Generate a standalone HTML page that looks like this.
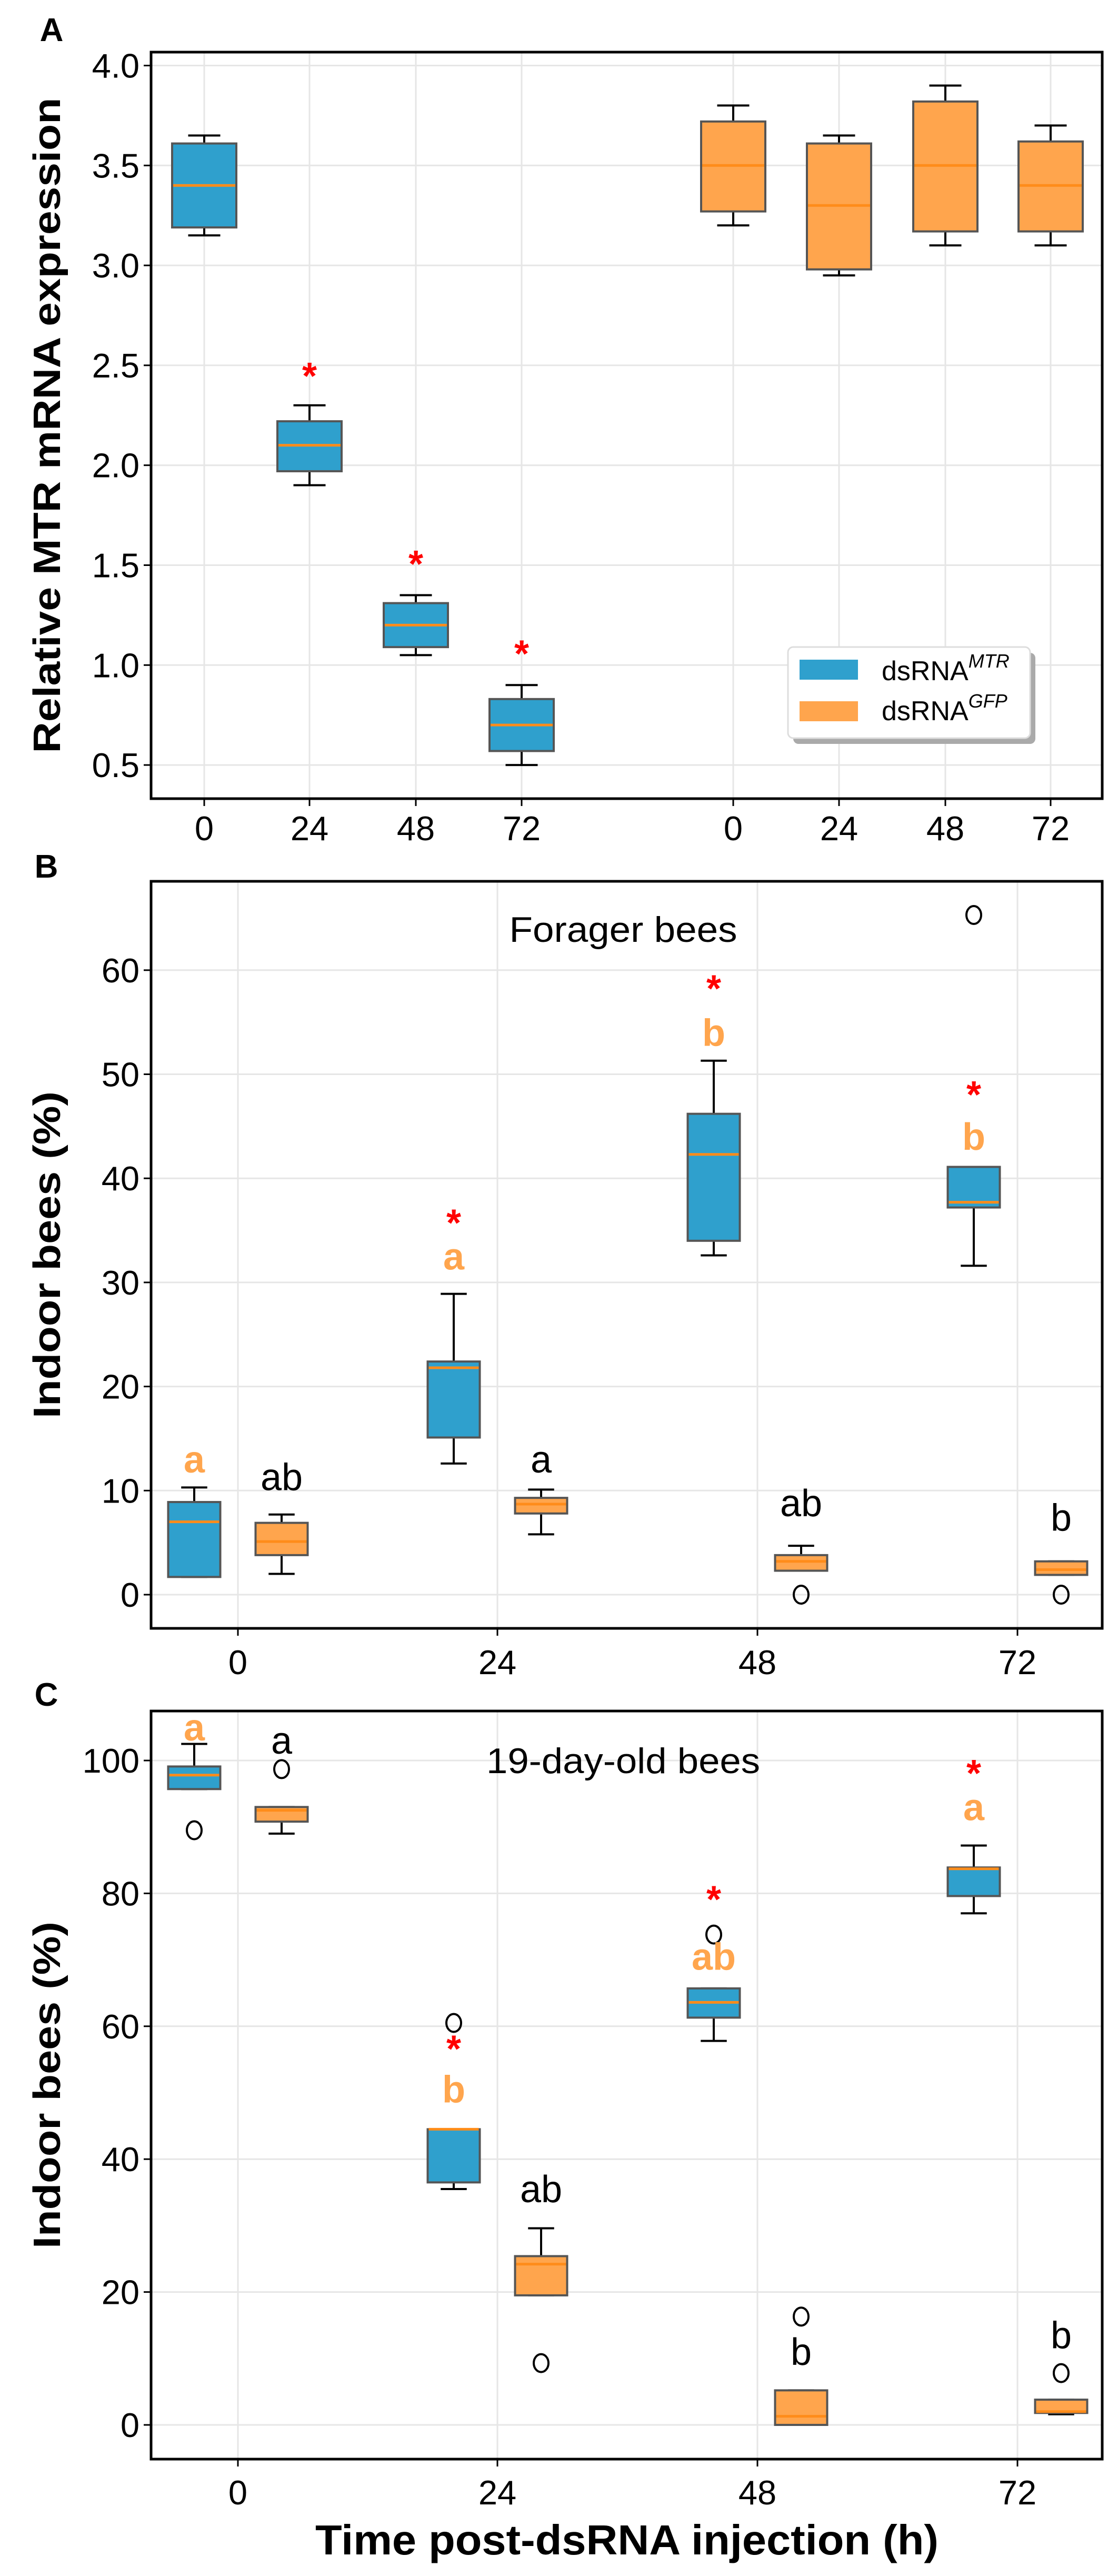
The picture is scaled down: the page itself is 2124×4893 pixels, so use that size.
<!DOCTYPE html>
<html><head><meta charset="utf-8"><style>
html,body{margin:0;padding:0;background:#fff}
svg{display:block}
text{font-family:"Liberation Sans",sans-serif}
</style></head><body>
<svg id="fig" width="2124" height="4893" viewBox="0 0 2124 4893" xmlns="http://www.w3.org/2000/svg">
<text x="98" y="78" font-size="62" font-weight="bold" text-anchor="middle">A</text>
<text x="88" y="1667" font-size="62" font-weight="bold" text-anchor="middle">B</text>
<text x="88" y="3240" font-size="62" font-weight="bold" text-anchor="middle">C</text>
<g id="pa"></g>
<g id="pb"></g>
<g id="pc"></g>
</svg>
<script>
// Panel A data: [whisLo, q1, median, q3, whisHi]
const aLabels = ["0","24","48","72","0","24","48","72"];
const aBlue = [[3.15,3.19,3.4,3.61,3.65],[1.9,1.97,2.1,2.22,2.3],[1.05,1.09,1.2,1.31,1.35],[0.5,0.57,0.7,0.83,0.9]];
const aOrange = [[3.2,3.27,3.5,3.72,3.8],[2.95,2.98,3.3,3.61,3.65],[3.1,3.17,3.5,3.82,3.9],[3.1,3.17,3.4,3.62,3.7]];
const aStars = [null,2.46,1.52,1.07];
const aTicks = [0.5,1.0,1.5,2.0,2.5,3.0,3.5,4.0];

// Panel B data
const bCats = ["0","24","48","72"];
const bBlue = [[1.7,1.7,7.0,8.9,10.3],[12.6,15.1,21.8,22.4,28.9],[32.6,34.0,42.3,46.2,51.3],[31.6,37.2,37.7,41.1,41.1]];
const bOrange = [[2.0,3.8,5.1,6.9,7.7],[5.8,7.8,8.7,9.3,10.1],[2.3,2.3,3.2,3.8,4.7],[1.9,1.9,2.4,3.2,3.2]];
const bBlueOut = [[],[],[],[65.3]];
const bOrangeOut = [[],[],[0],[0]];
const bBlueLetters = [["a",13],["a",32.5],["b",54],["b",44]];
const bOrangeLetters = [["ab",11.3],["a",13],["ab",8.8],["b",7.4]];
const bStars = [null,36,58.5,48.3];
const bTicks = [0,10,20,30,40,50,60];

// Panel C data
const cCats = ["0","24","48","72"];
const cBlue = [[95.7,95.7,97.8,99.1,102.5],[35.5,36.5,44.5,44.5,44.5],[57.8,61.3,63.6,65.7,65.7],[77,79.6,83.7,83.9,87.2]];
const cOrange = [[89,90.8,92.5,93,93],[19.5,19.5,24.2,25.4,29.6],[0,0,1.3,5.2,5.2],[1.6,1.8,2.0,3.8,3.8]];
const cBlueOut = [[89.5],[60.5],[73.8],[]];
const cOrangeOut = [[98.7],[9.3],[16.3],[7.8]];
const cBlueLetters = [["a",105],["b",50.5],["ab",70.5],["a",93]];
const cOrangeLetters = [["a",103],["ab",35.5],["b",11],["b",13.5]];
const cStars = [null,57,79.5,98.5];
const cTicks = [0,20,40,60,80,100];

const NS="http://www.w3.org/2000/svg";
const BLUE="#2fa0cd", ORANGE="#ffa54d", MED="#ff8c1a", EDGE="#555";
function mk(parent,tag,attrs){const e=document.createElementNS(NS,tag);for(const k in attrs)e.setAttribute(k,attrs[k]);parent.appendChild(e);return e;}
const L=287,R=2094;

function frame(g,top,bot,yfn,ticks,fmt,xgrid,xlabels,xLabelY,ytitle,titleLen){
  ticks.forEach(t=>{const y=yfn(t);
    const gl=mk(g,'line',{x1:L,x2:R,y1:y,y2:y,stroke:'#e6e6e6','stroke-width':3});
    
    
    const tk=mk(g,'line',{x1:L-14,x2:L,y1:y,y2:y,stroke:'#000','stroke-width':3});
    
    
    const tx=mk(g,'text',{x:L-22,y:y+23,'font-size':65,'text-anchor':'end'});tx.textContent=fmt(t);
    
    
  });
  xgrid.forEach((x,i)=>{
    const gl=mk(g,'line',{x1:x,x2:x,y1:top,y2:bot,stroke:'#e6e6e6','stroke-width':3});
    
    
    const tk=mk(g,'line',{x1:x,x2:x,y1:bot,y2:bot+14,stroke:'#000','stroke-width':3});
    
    
    const tx=mk(g,'text',{x:x,y:xLabelY,'font-size':65,'text-anchor':'middle'});tx.textContent=xlabels[i];
    
    
  });
  const cy=(top+bot)/2;
  const t=mk(g,'text',{x:0,y:0,'font-size':72,'font-weight':'bold','text-anchor':'middle','font-family':'"DejaVu Sans",sans-serif',textLength:titleLen,lengthAdjust:'spacingAndGlyphs',transform:`translate(114,${cy}) rotate(-90)`});
  t.textContent=ytitle;
  
  
}
function border(g,top,bot){
  const r=mk(g,'rect',{x:L,y:top,width:R-L,height:bot-top,fill:'none',stroke:'#000','stroke-width':5});
  
  
}
function box(g,cx,w,d,yfn,fill,name){
  const bg=mk(g,'g',{});
  
  
  const cw=w/2;
  mk(bg,'line',{x1:cx,x2:cx,y1:yfn(d[0]),y2:yfn(d[1]),stroke:'#000','stroke-width':4});
  mk(bg,'line',{x1:cx,x2:cx,y1:yfn(d[3]),y2:yfn(d[4]),stroke:'#000','stroke-width':4});
  mk(bg,'line',{x1:cx-cw/2,x2:cx+cw/2,y1:yfn(d[0]),y2:yfn(d[0]),stroke:'#000','stroke-width':4});
  mk(bg,'line',{x1:cx-cw/2,x2:cx+cw/2,y1:yfn(d[4]),y2:yfn(d[4]),stroke:'#000','stroke-width':4});
  mk(bg,'rect',{x:cx-w/2,y:yfn(d[3]),width:w,height:Math.max(1,yfn(d[1])-yfn(d[3])),fill:fill,stroke:EDGE,'stroke-width':4});
  mk(bg,'line',{x1:cx-w/2+2,x2:cx+w/2-2,y1:yfn(d[2]),y2:yfn(d[2]),stroke:MED,'stroke-width':5});
}
function outlier(g,cx,v,yfn){
  const c=mk(g,'ellipse',{cx:cx,cy:yfn(v),rx:14,ry:17,fill:'none',stroke:'#000','stroke-width':4});
  
  
}
function star(g,cx,v,yfn){
  const s=mk(g,'text',{x:cx,y:yfn(v)+30,'font-size':72,'font-weight':'bold',fill:'#ff0000','text-anchor':'middle'});
  s.textContent='*';
  
  
}
function letter(g,cx,lt,yfn,color,bold){
  const t=mk(g,'text',{x:cx,y:yfn(lt[1])+25,'font-size':72,'text-anchor':'middle',fill:color,'font-weight':bold?'bold':'normal'});
  t.textContent=lt[0];
  
  
}

// Panel A
(function(){
  const g=document.getElementById('pa');
  const top=99,bot=1517;
  const y=v=>124.5+(4.0-v)*379.6;
  const xs=[388,588,790,991,1393,1594,1796,1996];
  frame(g,top,bot,y,aTicks,t=>t.toFixed(1),xs,aLabels,1596,'Relative MTR mRNA expression',1245);
  aBlue.forEach((d,i)=>box(g,xs[i],122,d,y,BLUE,'box-mtr-'+aLabels[i]));
  aOrange.forEach((d,i)=>box(g,xs[i+4],122,d,y,ORANGE,'box-gfp-'+aLabels[i+4]));
  aStars.forEach((s,i)=>{if(s!==null)star(g,xs[i],s,y);});
  border(g,top,bot);
  const lg=mk(g,'g',{});
  
  
  mk(lg,'rect',{x:1507,y:1240,width:460,height:173,rx:10,fill:'#aaa'});
  mk(lg,'rect',{x:1497,y:1229,width:460,height:173,rx:10,fill:'#fff',stroke:'#ddd','stroke-width':3});
  mk(lg,'rect',{x:1519,y:1253,width:111,height:38,fill:BLUE});
  mk(lg,'rect',{x:1519,y:1332,width:111,height:38,fill:ORANGE});
  const t1=mk(lg,'text',{x:1675,y:1292,'font-size':52});
  t1.innerHTML='dsRNA<tspan font-size="36" font-style="italic" dy="-24">MTR</tspan>';
  
  
  const t2=mk(lg,'text',{x:1675,y:1368,'font-size':52});
  t2.innerHTML='dsRNA<tspan font-size="36" font-style="italic" dy="-24">GFP</tspan>';
  
  
})();

function panelBC(g,top,bot,y,ticks,cats,blue,orange,bOut,oOut,bL,oL,stars,title,titleY,xLabelY,titleW){
  const xs=[452,945,1439,1933];
  frame(g,top,bot,y,ticks,t=>String(t),xs,cats,xLabelY,'Indoor bees (%)',621);
  const tt=mk(g,'text',{x:1184,y:titleY+24,'font-size':68,'text-anchor':'middle',textLength:titleW,lengthAdjust:'spacingAndGlyphs'});
  tt.textContent=title;
  
  
  blue.forEach((d,i)=>{box(g,xs[i]-83,99,d,y,BLUE,'box-mtr-'+cats[i]);bOut[i].forEach(v=>outlier(g,xs[i]-83,v,y));});
  orange.forEach((d,i)=>{box(g,xs[i]+83,99,d,y,ORANGE,'box-gfp-'+cats[i]);oOut[i].forEach(v=>outlier(g,xs[i]+83,v,y));});
  bL.forEach((l,i)=>letter(g,xs[i]-83,l,y,ORANGE,true));
  oL.forEach((l,i)=>letter(g,xs[i]+83,l,y,'#000',false));
  stars.forEach((s,i)=>{if(s!==null)star(g,xs[i]-83,s,y);});
  border(g,top,bot);
}
panelBC(document.getElementById('pb'),1674,3093,v=>3029-v*19.77,bTicks,bCats,bBlue,bOrange,bBlueOut,bOrangeOut,bBlueLetters,bOrangeLetters,bStars,'Forager bees',1765,3180,433);
panelBC(document.getElementById('pc'),3250,4671,v=>4606-v*12.62,cTicks,cCats,cBlue,cOrange,cBlueOut,cOrangeOut,cBlueLetters,cOrangeLetters,cStars,'19-day-old bees',3344,4757,520);
(function(){
  const g=document.getElementById('pc');
  const t=mk(g,'text',{x:1191,y:4852,'font-size':80,'font-weight':'bold','text-anchor':'middle',textLength:1184,lengthAdjust:'spacingAndGlyphs'});
  t.textContent='Time post-dsRNA injection (h)';
  
  
})();
</script>
</body></html>
